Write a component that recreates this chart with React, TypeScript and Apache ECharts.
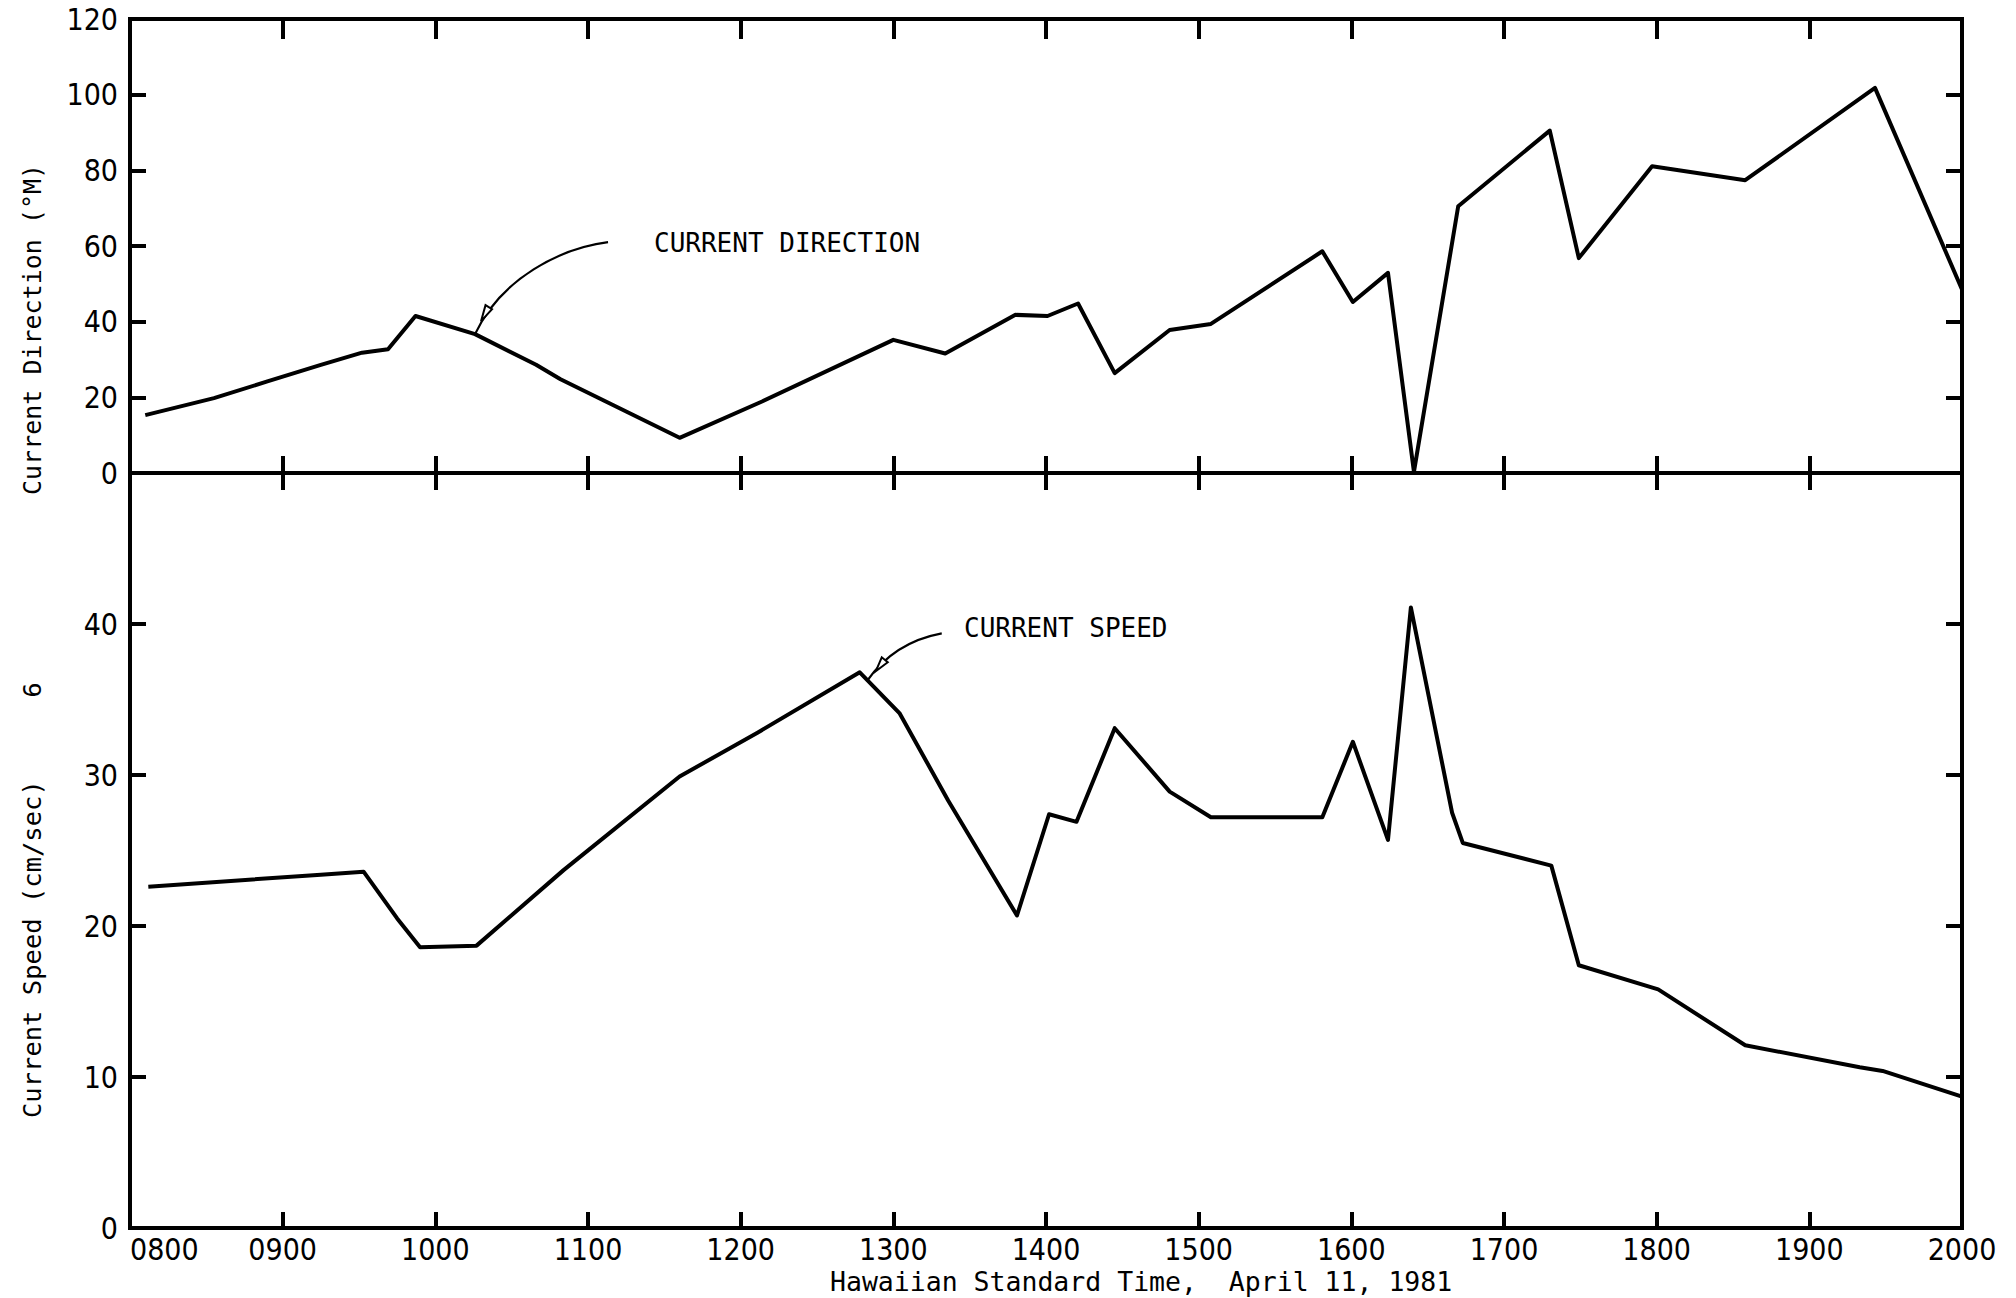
import React, { useEffect, useRef } from "react";
import * as echarts from "echarts";

// Time of observation in decimal hours (HST), current direction in degrees magnetic
const directionTime = [
  8.1, 8.55, 8.9, 9.25, 9.52, 9.69, 9.87, 10.26, 10.66, 10.82, 11.6, 12.14,
  13.0, 13.34, 13.8, 14.01, 14.21, 14.45, 14.81, 15.08, 15.81, 16.01, 16.24,
  16.41, 16.7, 17.3, 17.49, 17.97, 18.58, 19.43, 20.0,
];
const directionDeg = [
  15.3, 19.8, 24.2, 28.6, 31.8, 32.7, 41.5, 36.7, 28.6, 24.8, 9.3, 18.9,
  35.2, 31.6, 41.8, 41.5, 44.8, 26.4, 37.8, 39.4, 58.6, 45.2, 52.9,
  0.3, 70.5, 90.5, 56.8, 81.1, 77.4, 101.8, 48.5,
];

// Time of observation in decimal hours (HST), current speed in cm/sec
const speedTime = [
  8.12, 9.25, 9.53, 9.75, 9.9, 10.27, 10.84, 11.6, 12.11, 12.78, 13.04, 13.36,
  13.81, 14.02, 14.2, 14.45, 14.81, 15.08, 15.81, 16.01, 16.24, 16.39, 16.66,
  16.73, 17.31, 17.49, 18.01, 18.58, 19.33, 19.48, 20.0,
];
const speedCms = [
  22.6, 23.4, 23.6, 20.5, 18.6, 18.7, 23.7, 29.9, 32.8, 36.8, 34.1, 28.3,
  20.7, 27.4, 26.9, 33.1, 28.9, 27.2, 27.2, 32.2, 25.7, 41.1, 27.5,
  25.5, 24.0, 17.4, 15.8, 12.1, 10.65, 10.4, 8.7,
];

const hourLabels = [
  "0800", "0900", "1000", "1100", "1200", "1300", "1400",
  "1500", "1600", "1700", "1800", "1900", "2000",
];

const directionTitle = "Current Direction (°M)";
const speedTitle = "Current Speed (cm/sec)";
const pageMark = "6";
const timeTitle = "Hawaiian Standard Time,  April 11, 1981";
const directionNote = "CURRENT DIRECTION";
const speedNote = "CURRENT SPEED";

const INK = "#000";
const MONO = "'DejaVu Sans Mono', 'Liberation Mono', monospace";
const NARROW = "'Liberation Sans Narrow', 'DejaVu Sans Condensed', sans-serif";

const frameLine = { lineStyle: { color: INK, width: 4, cap: "square" as const } };
const tick = (length: number) => ({
  show: true,
  inside: true,
  length,
  lineStyle: { color: INK, width: 4 },
});

export default function App() {
  const ref = useRef<HTMLDivElement>(null);

  useEffect(() => {
    if (!ref.current) return;
    const chart = echarts.init(ref.current, undefined, { renderer: "svg" });

    const xBase = {
      type: "value" as const,
      min: 8,
      max: 20,
      interval: 1,
      splitLine: { show: false },
      axisLine: { show: true, onZero: false, ...frameLine },
    };
    const yBase = {
      type: "value" as const,
      splitLine: { show: false },
      axisLine: { show: true, onZero: false, ...frameLine },
    };
    const tickText = { color: INK, fontFamily: NARROW, fontSize: 30 };

    const option: any = {
      animation: false,
      backgroundColor: "#fff",
      grid: [
        { left: 130, top: 19, width: 1832, height: 454 },
        { left: 130, top: 473, width: 1832, height: 755 },
      ],
      xAxis: [
        { ...xBase, gridIndex: 0, position: "bottom", axisTick: tick(17), axisLabel: { show: false } },
        { ...xBase, gridIndex: 0, position: "top", axisTick: tick(20), axisLabel: { show: false } },
        { ...xBase, gridIndex: 1, position: "top", axisTick: tick(17), axisLabel: { show: false } },
        {
          ...xBase,
          gridIndex: 1,
          position: "bottom",
          axisTick: tick(16),
          axisLabel: {
            show: true,
            margin: 6,
            ...tickText,
            alignMinLabel: "left",
            formatter: (v: number) => hourLabels[Math.round(v) - 8] ?? "",
          },
        },
      ],
      yAxis: [
        {
          ...yBase,
          gridIndex: 0,
          position: "left",
          min: 0,
          max: 120,
          interval: 20,
          axisTick: tick(16),
          axisLabel: { show: true, margin: 12, ...tickText },
        },
        {
          ...yBase,
          gridIndex: 0,
          position: "right",
          min: 0,
          max: 120,
          interval: 20,
          axisTick: tick(16),
          axisLabel: { show: false },
        },
        {
          ...yBase,
          gridIndex: 1,
          position: "left",
          min: 0,
          max: 50,
          interval: 10,
          axisTick: tick(16),
          axisLabel: {
            show: true,
            margin: 12,
            ...tickText,
            formatter: (v: number) => (v === 50 ? "" : String(v)),
          },
        },
        {
          ...yBase,
          gridIndex: 1,
          position: "right",
          min: 0,
          max: 50,
          interval: 10,
          axisTick: tick(16),
          axisLabel: { show: false },
        },
      ],
      series: [
        {
          type: "line",
          name: "direction",
          xAxisIndex: 0,
          yAxisIndex: 0,
          data: directionTime.map((t, i) => [t, directionDeg[i]]),
          showSymbol: false,
          symbol: "none",
          lineStyle: { color: INK, width: 4, join: "round" },
        },
        {
          type: "line",
          name: "speed",
          xAxisIndex: 3,
          yAxisIndex: 2,
          data: speedTime.map((t, i) => [t, speedCms[i]]),
          showSymbol: false,
          symbol: "none",
          lineStyle: { color: INK, width: 4, join: "round" },
        },
      ],
    };

    chart.setOption(option);

    // Anchor the two callout arrows on vertices of the plotted lines
    const dirTip = chart.convertToPixel({ seriesIndex: 0 }, [directionTime[7], directionDeg[7]]) as number[];
    const spdPeak = chart.convertToPixel({ seriesIndex: 1 }, [speedTime[9], speedCms[9]]) as number[];
    const [dx, dy] = dirTip;
    const [sx, sy] = [spdPeak[0] + 7, spdPeak[1] + 9];

    const textStyle = (text: string, size: number, align: string, family = MONO) => ({
      text,
      fill: INK,
      fontFamily: family,
      fontSize: size,
      textAlign: align,
      textVerticalAlign: "middle",
    });

    chart.setOption({
      graphic: [
        {
          type: "bezierCurve",
          shape: {
            x1: dx + 133, y1: dy - 92,
            cpx1: dx + 86, cpy1: dy - 86,
            cpx2: dx + 26, cpy2: dy - 56,
            x2: dx, y2: dy,
          },
          style: { stroke: INK, lineWidth: 2.2, fill: "none" },
        },
        {
          type: "polygon",
          shape: { points: [[dx + 6, dy - 13], [dx + 10.5, dy - 29], [dx + 17, dy - 25]] },
          style: { stroke: INK, lineWidth: 2, fill: "#fff" },
        },
        {
          type: "bezierCurve",
          shape: {
            x1: sx + 75, y1: sy - 48,
            cpx1: sx + 48, cpy1: sy - 43,
            cpx2: sx + 20, cpy2: sy - 29,
            x2: sx, y2: sy,
          },
          style: { stroke: INK, lineWidth: 2.2, fill: "none" },
        },
        {
          type: "polygon",
          shape: { points: [[sx + 9, sy - 10], [sx + 15, sy - 24], [sx + 21, sy - 19]] },
          style: { stroke: INK, lineWidth: 2, fill: "#fff" },
        },
        { type: "text", x: 654, y: 243, style: textStyle(directionNote, 26, "left") },
        { type: "text", x: 964, y: 628, style: textStyle(speedNote, 26, "left") },
        { type: "text", x: 830, y: 1281, style: textStyle(timeTitle, 26.5, "left") },
        { type: "text", x: 32, y: 495, rotation: Math.PI / 2, style: textStyle(directionTitle, 25, "left") },
        { type: "text", x: 32, y: 1118, rotation: Math.PI / 2, style: textStyle(speedTitle, 25.5, "left") },
        { type: "text", x: 32, y: 690, rotation: Math.PI / 2, style: textStyle(pageMark, 25, "center") },
      ],
    });

    return () => chart.dispose();
  }, []);

  return (
    <div
      ref={ref}
      style={{ position: "fixed", left: 0, top: 0, width: 2016, height: 1298, background: "#fff" }}
    />
  );
}
